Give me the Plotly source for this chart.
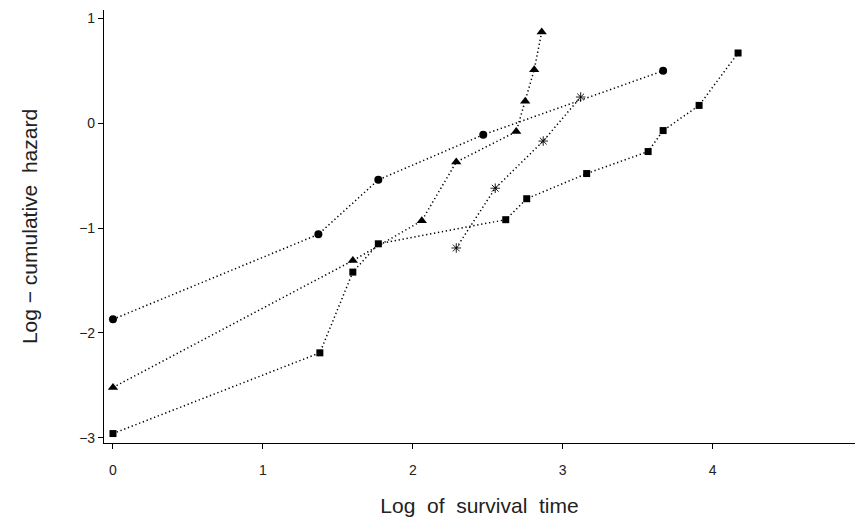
import plotly.graph_objects as go

# Data
circ_x = [0.0, 1.37, 1.77, 2.47, 3.67]
circ_y = [-1.87, -1.06, -0.54, -0.11, 0.50]

tri_x = [0.0, 1.60, 2.06, 2.29, 2.69, 2.75, 2.81, 2.86]
tri_y = [-2.52, -1.31, -0.93, -0.37, -0.08, 0.21, 0.51, 0.87]

sq_x = [0.0, 1.38, 1.60, 1.77, 2.62, 2.76, 3.16, 3.57, 3.67, 3.91, 4.17]
sq_y = [-2.96, -2.19, -1.42, -1.15, -0.92, -0.72, -0.48, -0.27, -0.07, 0.17, 0.67]

star_x = [2.29, 2.55, 2.87, 3.12]
star_y = [-1.19, -0.62, -0.17, 0.25]

xticks = [0, 1, 2, 3, 4]
yticks = [-3, -2, -1, 0, 1]

FONT = "Liberation Sans, Arial, sans-serif"
NB = "\u00a0"

fig = go.Figure()
line = dict(color="black", width=1.5, dash="1.3px,2.7px")
fig.add_trace(go.Scatter(x=circ_x, y=circ_y, mode="lines+markers", line=line,
                         marker=dict(symbol="circle", size=8, color="black")))
fig.add_trace(go.Scatter(x=tri_x, y=tri_y, mode="lines+markers", line=line,
                         marker=dict(symbol="triangle-up", size=9, color="black")))
fig.add_trace(go.Scatter(x=sq_x, y=sq_y, mode="lines+markers", line=line,
                         marker=dict(symbol="square", size=7, color="black")))
fig.add_trace(go.Scatter(x=star_x, y=star_y, mode="lines+markers", line=line,
                         marker=dict(symbol="asterisk-open", size=8,
                                     line=dict(color="black", width=0.9))))

fig.update_layout(
    width=855, height=517,
    margin=dict(l=104, r=0, t=10, b=74),
    paper_bgcolor="white", plot_bgcolor="white",
    showlegend=False,
    font=dict(family=FONT, color="#222"),
    xaxis=dict(range=[-0.06, 4.95], tickvals=xticks, showgrid=False, zeroline=False,
               showline=True, linecolor="black", linewidth=1.2,
               ticks="outside", ticklen=5, tickcolor="black",
               ticklabelstandoff=9,
               tickfont=dict(size=14, family=FONT),
               title=dict(text=NB * 3 + "Log" + NB + " of" + NB + " survival" + NB + " time",
                          font=dict(size=21, family=FONT), standoff=21)),
    yaxis=dict(range=[-3.05, 1.08], tickvals=yticks, showgrid=False, zeroline=False,
               showline=True, linecolor="black", linewidth=1.2,
               ticks="outside", ticklen=5, tickcolor="black",
               tickfont=dict(size=14, family=FONT),
               title=dict(text="Log" + NB + "\u2212" + NB + "cumulative" + NB + " hazard",
                          font=dict(size=21, family=FONT), standoff=35)),
)

fig.write_html("out.html")
